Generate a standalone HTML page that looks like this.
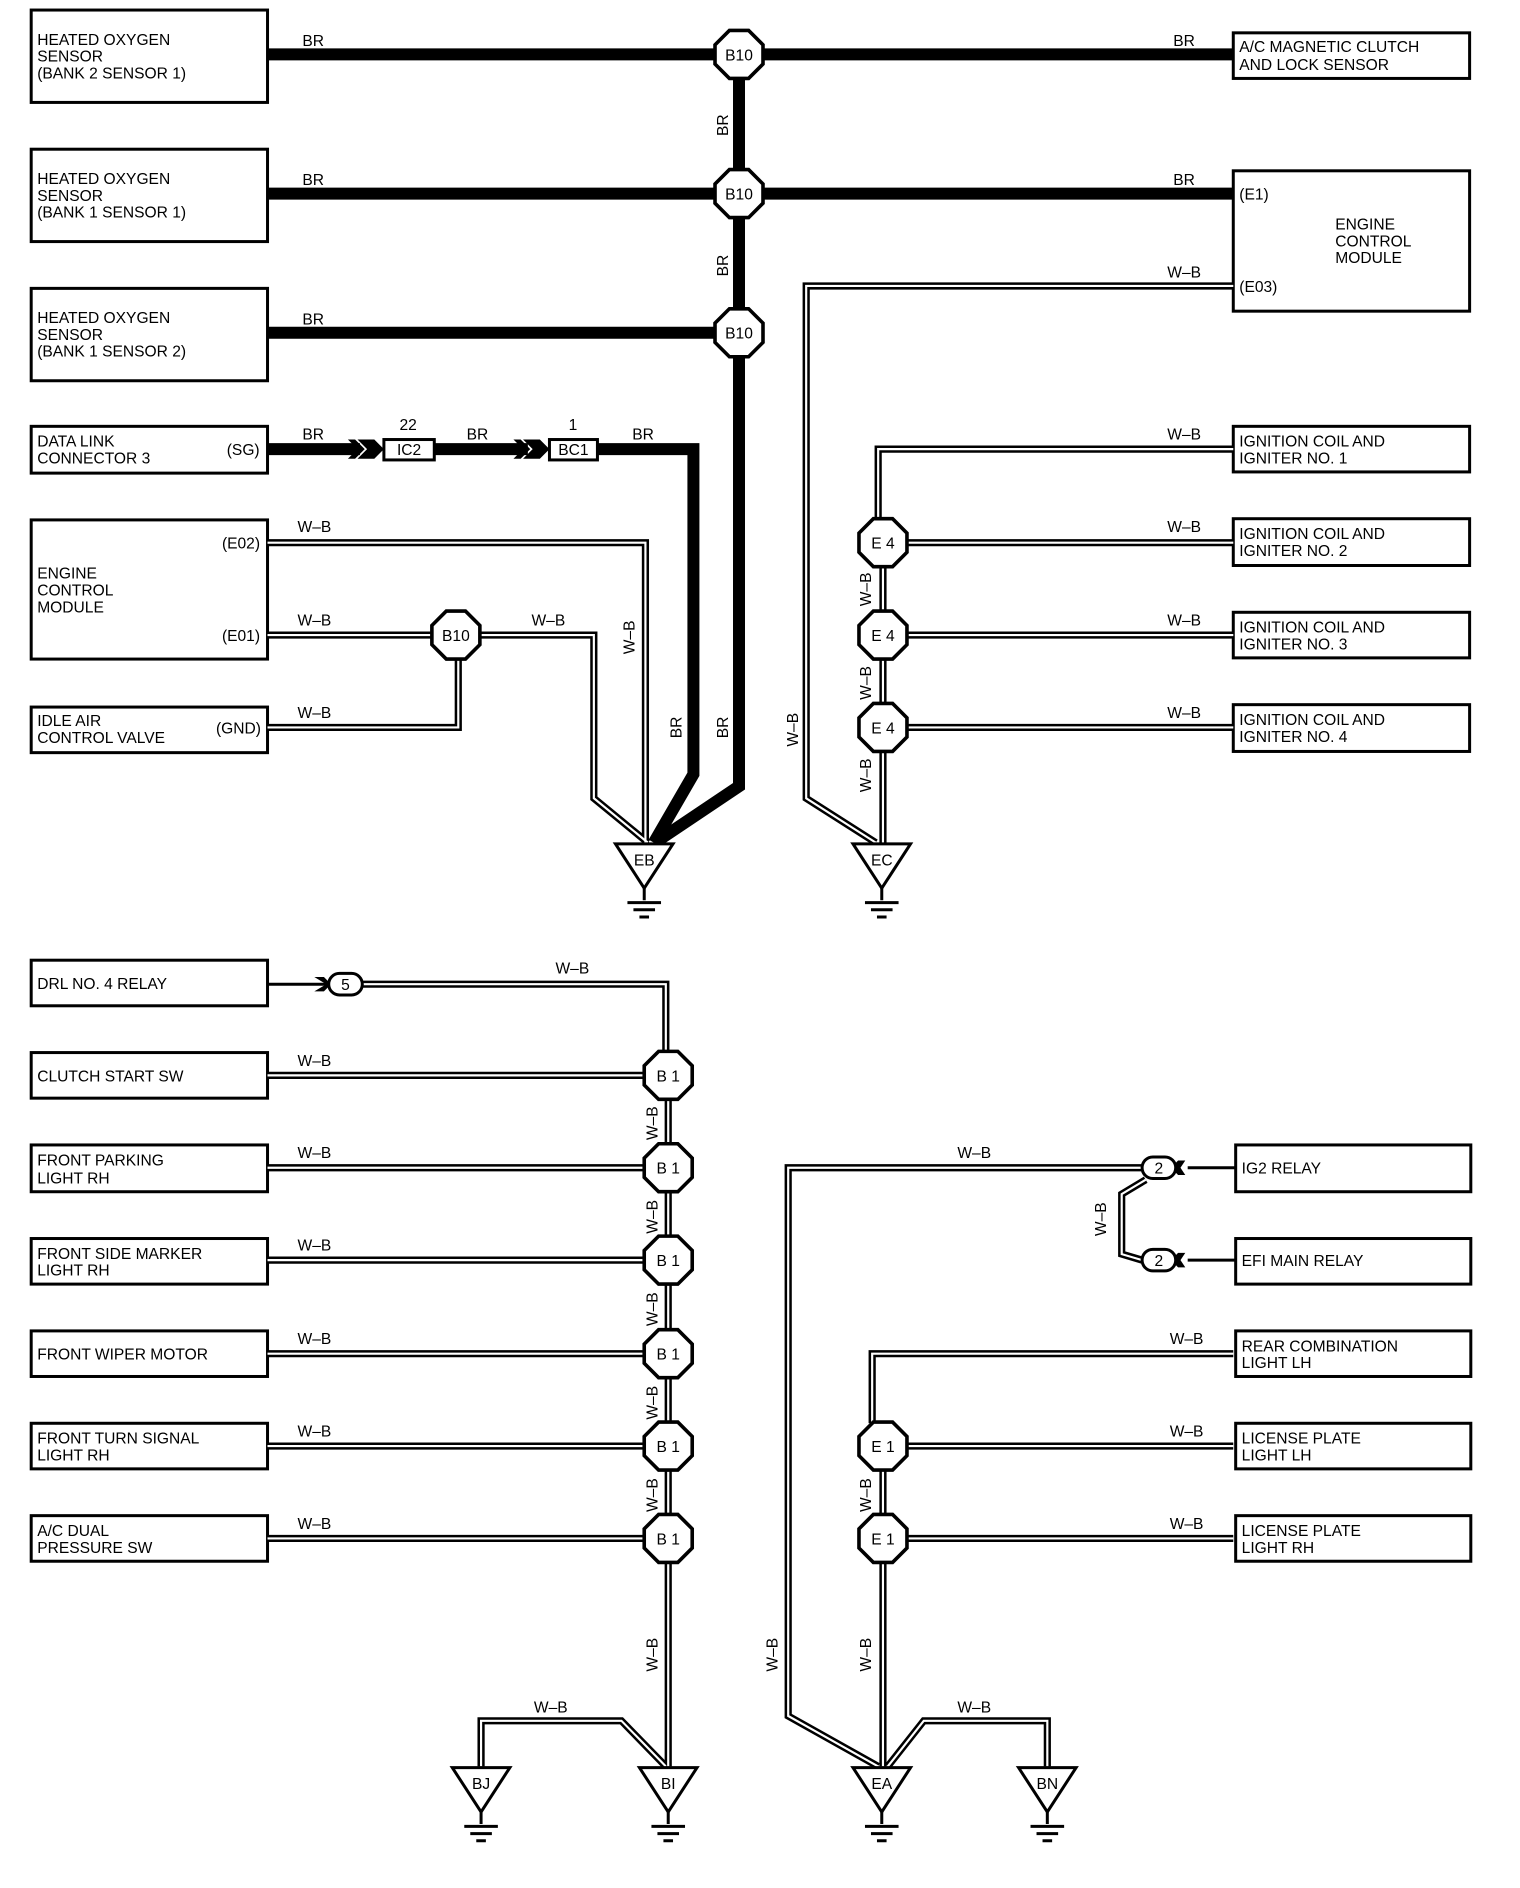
<!DOCTYPE html>
<html><head><meta charset="utf-8"><style>
html,body{margin:0;padding:0;background:#fff;}
svg{display:block;}
text{font-family:"Liberation Sans",Arial,sans-serif;font-size:13px;fill:#000;}
</style></head><body>
<svg width="1520" height="1888" viewBox="0 0 1267 1573" xmlns="http://www.w3.org/2000/svg">
<defs>
<polygon id="oct" points="-8,-20 8,-20 20,-8 20,8 8,20 -8,20 -20,8 -20,-8" fill="#fff" stroke="#000" stroke-width="3"/>
<g id="gnd" fill="none" stroke="#000" stroke-width="2.5">
<polygon points="-24,3 24,3 0,40" fill="#fff"/>
<path d="M0 40V50M-14 52H14M-9 58H9M-4 64H4"/>
</g>
<g id="wb" fill="none" stroke-linejoin="miter">
<path d="M223 452H538V702"/>
<path d="M223 529H360M400 529H495V665L540 702"/>
<path d="M223 606H382V549"/>
<path d="M1028 238H672V665L730 702"/>
<path d="M1028 374H732V432"/>
<path d="M756 452H1028M756 529H1028M756 606H1028"/>
<path d="M736 471V509M736 548V587M736 626V702"/>
<path d="M300 820H555V877"/>
<path d="M223 896H537M223 973H537M223 1050H537M223 1128H537M223 1205H537M223 1282H537"/>
<path d="M557 915V954M557 993V1031M557 1070V1108M557 1147V1186M557 1224V1263M557 1301V1472"/>
<path d="M401 1472V1434H518L555 1472"/>
<path d="M952 973H657V1430L732 1472"/>
<path d="M955 983L935 995V1045L952 1050"/>
<path d="M1028 1128H727V1186"/>
<path d="M756 1205H1028M756 1282H1028"/>
<path d="M736 1224V1263M736 1301V1472"/>
<path d="M873 1472V1434H770L740 1472"/>
</g>
</defs>
<g fill="none" stroke="#000" stroke-width="2.5">
<rect x="26" y="8" width="197" height="77"/>
<rect x="26" y="124" width="197" height="77"/>
<rect x="26" y="240" width="197" height="77"/>
<rect x="26" y="355" width="197" height="39"/>
<rect x="26" y="433" width="197" height="116"/>
<rect x="26" y="589" width="197" height="38"/>
<rect x="1028" y="27" width="197" height="38"/>
<rect x="1028" y="142" width="197" height="117"/>
<rect x="1028" y="355" width="197" height="38"/>
<rect x="1028" y="432" width="197" height="39"/>
<rect x="1028" y="510" width="197" height="38"/>
<rect x="1028" y="587" width="197" height="39"/>
<rect x="26" y="800" width="197" height="38"/>
<rect x="26" y="877" width="197" height="38"/>
<rect x="26" y="954" width="197" height="39"/>
<rect x="26" y="1032" width="197" height="38"/>
<rect x="26" y="1109" width="197" height="38"/>
<rect x="26" y="1186" width="197" height="38"/>
<rect x="26" y="1263" width="197" height="38"/>
<rect x="1030" y="954" width="196" height="39"/>
<rect x="1030" y="1032" width="196" height="38"/>
<rect x="1030" y="1109" width="196" height="38"/>
<rect x="1030" y="1186" width="196" height="38"/>
<rect x="1030" y="1263" width="196" height="38"/>
</g>
<!-- BR thick -->
<g fill="none" stroke="#000" stroke-width="10" stroke-linejoin="miter">
<path d="M223 45H596M636 45H1028M223 161H596M636 161H1028M223 277H596"/>
<path d="M616 64V142M616 180V258M616 296V655L546 702"/>
<path d="M223 374H300M362 374H440M498 374H578V645L545 702"/>
</g>
<g fill="#000"><path d="M290 366L298 374L290 382L296 382L304 374L296 366Z"/><path d="M298 366L306 374L298 382L312 382L320 374L312 366Z"/>
<path d="M428 366L436 374L428 382L434 382L442 374L434 366Z"/><path d="M436 366L444 374L436 382L450 382L458 374L450 366Z"/></g>
<rect x="320" y="366" width="42" height="17" fill="#fff" stroke="#000" stroke-width="2.5"/>
<rect x="458" y="366" width="40" height="17" fill="#fff" stroke="#000" stroke-width="2.5"/>
<!-- W-B double wires -->
<use href="#wb" stroke="#000" stroke-width="6"/>
<use href="#wb" stroke="#fff" stroke-width="1.8"/>
<!-- DRL arrow -->
<path d="M223 820H274" stroke="#000" stroke-width="2.5"/>
<path d="M262 814L272 820L262 826L270 826L276 820L270 814Z" fill="#000"/>
<path d="M982 967L976 973L982 979L988 979L984 973L988 967Z" fill="#000"/><path d="M1030 973H990" stroke="#000" stroke-width="2.5"/>
<path d="M982 1044L976 1050L982 1056L988 1056L984 1050L988 1044Z" fill="#000"/><path d="M1030 1050H990" stroke="#000" stroke-width="2.5"/>
<!-- connectors -->
<use href="#oct" x="616" y="45"/><use href="#oct" x="616" y="161"/><use href="#oct" x="616" y="277"/>
<use href="#oct" x="380" y="529"/>
<use href="#oct" x="736" y="452"/><use href="#oct" x="736" y="529"/><use href="#oct" x="736" y="606"/>
<use href="#oct" x="557" y="896"/><use href="#oct" x="557" y="973"/><use href="#oct" x="557" y="1050"/><use href="#oct" x="557" y="1128"/><use href="#oct" x="557" y="1205"/><use href="#oct" x="557" y="1282"/>
<use href="#oct" x="736" y="1205"/><use href="#oct" x="736" y="1282"/>
<rect x="274" y="811" width="28" height="18" rx="9" fill="#fff" stroke="#000" stroke-width="2.5"/>
<rect x="952" y="964" width="28" height="18" rx="9" fill="#fff" stroke="#000" stroke-width="2.5"/>
<rect x="952" y="1041" width="28" height="18" rx="9" fill="#fff" stroke="#000" stroke-width="2.5"/>
<use href="#gnd" x="537" y="700"/><use href="#gnd" x="735" y="700"/>
<use href="#gnd" x="401" y="1470"/><use href="#gnd" x="557" y="1470"/><use href="#gnd" x="735" y="1470"/><use href="#gnd" x="873" y="1470"/>
<!-- labels -->
<g>
<text x="31" y="37">HEATED OXYGEN</text><text x="31" y="51">SENSOR</text><text x="31" y="65">(BANK 2 SENSOR 1)</text>
<text x="31" y="153">HEATED OXYGEN</text><text x="31" y="167">SENSOR</text><text x="31" y="181">(BANK 1 SENSOR 1)</text>
<text x="31" y="269">HEATED OXYGEN</text><text x="31" y="283">SENSOR</text><text x="31" y="297">(BANK 1 SENSOR 2)</text>
<text x="31" y="372">DATA LINK</text><text x="31" y="386">CONNECTOR 3</text><text x="189" y="379">(SG)</text>
<text x="31" y="482">ENGINE</text><text x="31" y="496">CONTROL</text><text x="31" y="510">MODULE</text>
<text x="185" y="457">(E02)</text><text x="185" y="534">(E01)</text>
<text x="31" y="605">IDLE AIR</text><text x="31" y="619">CONTROL VALVE</text><text x="180" y="611">(GND)</text>
<text x="1033" y="43">A/C MAGNETIC CLUTCH</text><text x="1033" y="58">AND LOCK SENSOR</text>
<text x="1033" y="166">(E1)</text><text x="1033" y="243">(E03)</text>
<text x="1113" y="191">ENGINE</text><text x="1113" y="205">CONTROL</text><text x="1113" y="219">MODULE</text>
<text x="1033" y="372">IGNITION COIL AND</text><text x="1033" y="386">IGNITER NO. 1</text>
<text x="1033" y="449">IGNITION COIL AND</text><text x="1033" y="463">IGNITER NO. 2</text>
<text x="1033" y="527">IGNITION COIL AND</text><text x="1033" y="541">IGNITER NO. 3</text>
<text x="1033" y="604">IGNITION COIL AND</text><text x="1033" y="618">IGNITER NO. 4</text>
<text x="31" y="824">DRL NO. 4 RELAY</text>
<text x="31" y="901">CLUTCH START SW</text>
<text x="31" y="971">FRONT PARKING</text><text x="31" y="986">LIGHT RH</text>
<text x="31" y="1049">FRONT SIDE MARKER</text><text x="31" y="1063">LIGHT RH</text>
<text x="31" y="1133">FRONT WIPER MOTOR</text>
<text x="31" y="1203">FRONT TURN SIGNAL</text><text x="31" y="1217">LIGHT RH</text>
<text x="31" y="1280">A/C DUAL</text><text x="31" y="1294">PRESSURE SW</text>
<text x="1035" y="978">IG2 RELAY</text><text x="1035" y="1055">EFI MAIN RELAY</text>
<text x="1035" y="1126">REAR COMBINATION</text><text x="1035" y="1140">LIGHT LH</text>
<text x="1035" y="1203">LICENSE PLATE</text><text x="1035" y="1217">LIGHT LH</text>
<text x="1035" y="1280">LICENSE PLATE</text><text x="1035" y="1294">LIGHT RH</text>
</g>
<g font-size="12">
<text x="252" y="38">BR</text><text x="978" y="38">BR</text>
<text x="252" y="154">BR</text><text x="978" y="154">BR</text>
<text x="252" y="270">BR</text>
<text x="252" y="366">BR</text><text x="389" y="366">BR</text><text x="527" y="366">BR</text>
<text x="333" y="358">22</text><text x="474" y="358">1</text>
<text x="248" y="443">W–B</text><text x="248" y="521">W–B</text><text x="443" y="521">W–B</text><text x="248" y="598">W–B</text>
<text x="973" y="231">W–B</text><text x="973" y="366">W–B</text><text x="973" y="443">W–B</text><text x="973" y="521">W–B</text><text x="973" y="598">W–B</text>
<text x="463" y="811">W–B</text>
<text x="248" y="888">W–B</text><text x="248" y="965">W–B</text><text x="248" y="1042">W–B</text><text x="248" y="1120">W–B</text><text x="248" y="1197">W–B</text><text x="248" y="1274">W–B</text>
<text x="445" y="1427">W–B</text><text x="798" y="965">W–B</text><text x="975" y="1120">W–B</text><text x="975" y="1197">W–B</text><text x="975" y="1274">W–B</text><text x="798" y="1427">W–B</text>
</g>
<g font-size="12">
<text transform="translate(607,113) rotate(-90)">BR</text>
<text transform="translate(607,230) rotate(-90)">BR</text>
<text transform="translate(568,615) rotate(-90)">BR</text>
<text transform="translate(607,615) rotate(-90)">BR</text>
<text transform="translate(529,545) rotate(-90)">W–B</text>
<text transform="translate(665,622) rotate(-90)">W–B</text>
<text transform="translate(726,505) rotate(-90)">W–B</text>
<text transform="translate(726,583) rotate(-90)">W–B</text>
<text transform="translate(726,660) rotate(-90)">W–B</text>
<text transform="translate(548,950) rotate(-90)">W–B</text>
<text transform="translate(548,1028) rotate(-90)">W–B</text>
<text transform="translate(548,1105) rotate(-90)">W–B</text>
<text transform="translate(548,1183) rotate(-90)">W–B</text>
<text transform="translate(548,1260) rotate(-90)">W–B</text>
<text transform="translate(548,1393) rotate(-90)">W–B</text>
<text transform="translate(648,1393) rotate(-90)">W–B</text>
<text transform="translate(726,1393) rotate(-90)">W–B</text>
<text transform="translate(726,1260) rotate(-90)">W–B</text>
<text transform="translate(922,1030) rotate(-90)">W–B</text>
</g>
<g font-size="12" text-anchor="middle">
<text x="616" y="50">B10</text><text x="616" y="166">B10</text><text x="616" y="282">B10</text><text x="380" y="534">B10</text>
<text x="341" y="379">IC2</text><text x="478" y="379">BC1</text>
<text x="736" y="457">E 4</text><text x="736" y="534">E 4</text><text x="736" y="611">E 4</text>
<text x="557" y="901">B 1</text><text x="557" y="978">B 1</text><text x="557" y="1055">B 1</text><text x="557" y="1133">B 1</text><text x="557" y="1210">B 1</text><text x="557" y="1287">B 1</text>
<text x="736" y="1210">E 1</text><text x="736" y="1287">E 1</text>
<text x="288" y="825">5</text><text x="966" y="978">2</text><text x="966" y="1055">2</text>
<text x="537" y="721">EB</text><text x="735" y="721">EC</text>
<text x="401" y="1491">BJ</text><text x="557" y="1491">BI</text><text x="735" y="1491">EA</text><text x="873" y="1491">BN</text>
</g>
</svg>
</body></html>
